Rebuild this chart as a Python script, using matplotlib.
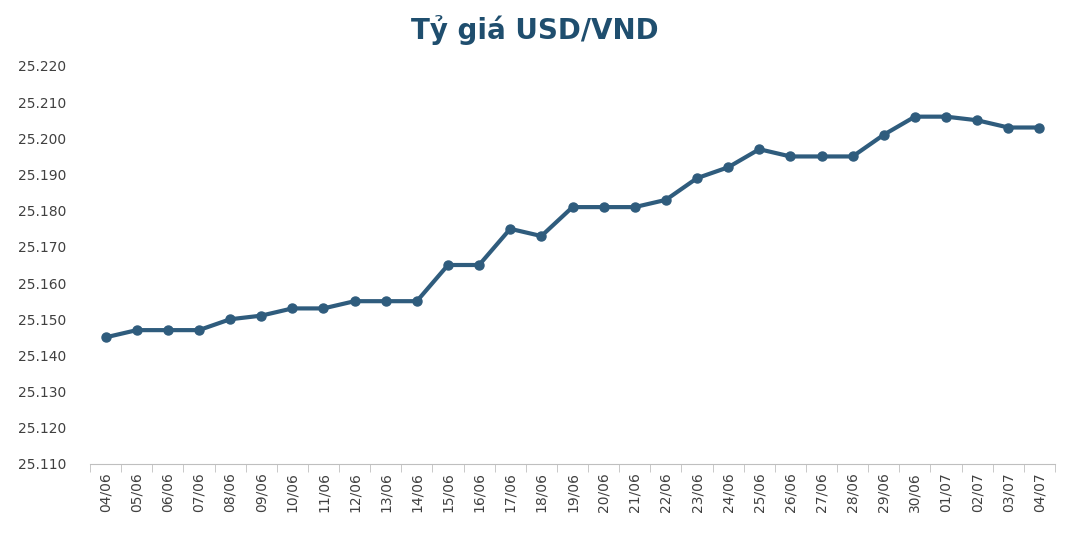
import matplotlib
matplotlib.use("Agg")
import matplotlib.pyplot as plt
from matplotlib.ticker import FuncFormatter, FixedLocator

dates = ["04/06","05/06","06/06","07/06","08/06","09/06","10/06","11/06","12/06","13/06","14/06",
         "15/06","16/06","17/06","18/06","19/06","20/06","21/06","22/06","23/06","24/06","25/06",
         "26/06","27/06","28/06","29/06","30/06","01/07","02/07","03/07","04/07"]
rates = [25145,25147,25147,25147,25150,25151,25153,25153,25155,25155,25155,
         25165,25165,25175,25173,25181,25181,25181,25183,25189,25192,25197,
         25195,25195,25195,25201,25206,25206,25205,25203,25203]
title = "Tỷ giá USD/VND"

fig = plt.figure(figsize=(10.70, 5.34), dpi=100)
ax = fig.add_axes([90/1070, 1-464/534, (1055-90)/1070, (464-66)/534])
x = list(range(len(dates)))
ax.plot(x, rates, color="#2F5C7D", lw=3, marker="o", ms=6.5)
ax.set_xlim(-0.5, len(dates)-0.5)
ax.set_ylim(25110, 25220)
ax.set_yticks(range(25110, 25221, 10))
ax.yaxis.set_major_formatter(FuncFormatter(lambda v, p: f"{v/1000:.3f}"))
ax.set_xticks(x)
ax.set_xticklabels(dates, rotation=90, fontsize=10, color="#404040")
ax.xaxis.set_minor_locator(FixedLocator([i-0.5 for i in range(len(dates)+1)]))
ax.tick_params(axis="x", which="major", length=0, pad=6)
ax.tick_params(axis="x", which="minor", length=6, color="#BFBFBF")
ax.tick_params(axis="y", length=0, labelsize=10, labelcolor="#404040", pad=52)
for yl in ax.get_yticklabels():
    yl.set_horizontalalignment("left")
for s in ["top", "right", "left"]:
    ax.spines[s].set_visible(False)
ax.spines["bottom"].set_color("#BFBFBF")
fig.text(0.5, 1-30/534, title, ha="center", va="center", fontsize=20,
         fontweight="bold", color="#1F4E6E")
fig.savefig("out.png", dpi=100)
